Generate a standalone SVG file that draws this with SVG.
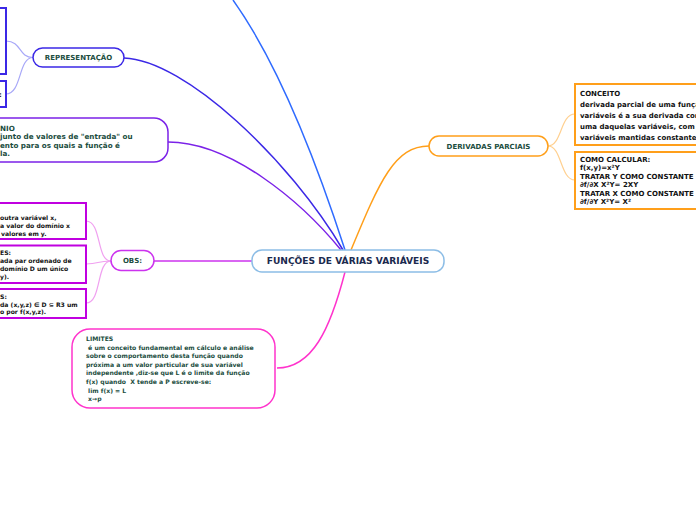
<svg xmlns="http://www.w3.org/2000/svg" width="696" height="520" viewBox="0 0 696 520">
<style>
.t{font-family:"DejaVu Sans","Liberation Sans",sans-serif;font-weight:bold}
.lab{fill:#1b4d3e;font-size:7px;text-anchor:middle}
.bx{fill:#111;font-size:6.1px}
.bx7{fill:#111;font-size:7px}
.lim{fill:#1b4d3e;font-size:6.1px}
.dom{fill:#1b4d3e;font-size:7.2px}
.c{fill:none}
</style>
<rect width="696" height="520" fill="#fff"/>
<g id="connectors" class="c">
<path d="M233,0 Q290,80 345,250" stroke="#2f6bff" stroke-width="1.5"/>
<path d="M124,58 C185,60 290,160 343,250" stroke="#3b28e6" stroke-width="1.5"/>
<path d="M168,142 C230,142 300,200 341,250" stroke="#7b22e8" stroke-width="1.5"/>
<path d="M351,250 C380,180 395,146 429,146" stroke="#ff9f1a" stroke-width="1.5"/>
<path d="M345,272 C330,330 312,368 277,368" stroke="#ff33cc" stroke-width="1.5"/>
<path d="M154,261 L252,261" stroke="#cc33ee" stroke-width="1.5"/>
<path d="M33,57.5 C18,57.5 22,41 6,41" stroke="#a8a8f8" stroke-width="1.2"/>
<path d="M33,57.5 C18,57.5 22,94 6,94" stroke="#a8a8f8" stroke-width="1.2"/>
<path d="M111,261 C96,261 102,221 86,221" stroke="#f0a0f0" stroke-width="1.2"/>
<path d="M111,261 C96,261 100,264 86,264" stroke="#f0a0f0" stroke-width="1.2"/>
<path d="M111,261 C96,261 102,303 86,303" stroke="#f0a0f0" stroke-width="1.2"/>
<path d="M548,146 C562,146 560,114 575,114" stroke="#ffd090" stroke-width="1.2"/>
<path d="M548,146 C562,146 560,180 575,180" stroke="#ffd090" stroke-width="1.2"/>
</g>
<g id="central">
<rect x="252" y="250" width="192" height="22" rx="10" fill="#fff" stroke="#8cbde6" stroke-width="1.5"/>
<text class="t" x="348" y="264.3" font-size="9.1" fill="#1b2a4e" text-anchor="middle">FUNÇÕES DE VÁRIAS VARIÁVEIS</text>
</g>
<g id="representacao">
<rect x="33" y="48" width="91" height="19" rx="9.5" fill="#fff" stroke="#3b28e6" stroke-width="1.5"/>
<text class="t lab" x="78.5" y="60">REPRESENTAÇÃO</text>
</g>
<g id="rep-box1">
<rect x="-10" y="8" width="16" height="66" fill="#fff" stroke="#3b28e6" stroke-width="2"/>
</g>
<g id="rep-box2">
<rect x="-10" y="81" width="16" height="26" fill="#fff" stroke="#3b28e6" stroke-width="2"/>
<text class="t bx7" x="-1" y="96.5">:</text>
</g>
<g id="dominio">
<rect x="-20" y="118" width="188" height="44" rx="14" fill="#fff" stroke="#7b22e8" stroke-width="1.5"/>
<text class="t dom" x="0" y="130.8">NIO</text>
<text class="t dom" x="0" y="139">junto de valores de &quot;entrada&quot; ou</text>
<text class="t dom" x="0" y="148">ento para os quais a função é</text>
<text class="t dom" x="0" y="156">la.</text>
</g>
<g id="obs">
<rect x="111" y="250.5" width="43" height="20" rx="10" fill="#fff" stroke="#cc33ee" stroke-width="1.5"/>
<text class="t lab" x="132.5" y="263">OBS:</text>
</g>
<g id="obs-box1">
<rect x="-10" y="203" width="96" height="36" fill="#fff" stroke="#c000e0" stroke-width="2"/>
<text class="t bx" x="0" y="219.5">outra variável x,</text>
<text class="t bx" x="0" y="227.5">a valor do domínio x</text>
<text class="t bx" x="1" y="235.5">valores em y.</text>
</g>
<g id="obs-box2">
<rect x="-10" y="245.5" width="96" height="37.5" fill="#fff" stroke="#c000e0" stroke-width="2"/>
<text class="t bx" x="0" y="254.5">ES:</text>
<text class="t bx" x="0" y="262.5">ada par ordenado de</text>
<text class="t bx" x="0" y="270.5">domínio D um único</text>
<text class="t bx" x="0" y="278.5">y).</text>
</g>
<g id="obs-box3">
<rect x="-10" y="289" width="96" height="29" fill="#fff" stroke="#c000e0" stroke-width="2"/>
<text class="t bx" x="0" y="298.5">S:</text>
<text class="t bx" x="0" y="306.5">da (x,y,z) ∈ D ⊆ R3 um</text>
<text class="t bx" x="0" y="314">o por f(x,y,z).</text>
</g>
<g id="limites">
<rect x="72" y="329" width="203" height="79" rx="18" fill="#fff" stroke="#ff33cc" stroke-width="1.5"/>
<text class="t lim" xml:space="preserve">
<tspan x="86" y="341">LIMITES</tspan>
<tspan x="86" y="349.6"> é um conceito fundamental em cálculo e análise</tspan>
<tspan x="86" y="358.2">sobre o comportamento desta função quando</tspan>
<tspan x="86" y="366.8">próxima a um valor particular de sua variável</tspan>
<tspan x="86" y="375.4">independente ,diz-se que L é o limite da função</tspan>
<tspan x="86" y="384">f(x) quando  X tende a P escreve-se:</tspan>
<tspan x="86" y="392.6"> lim f(x) = L</tspan>
<tspan x="86" y="401.2"> x→p</tspan>
</text>
</g>
<g id="derivadas">
<rect x="429" y="136" width="119" height="20" rx="10" fill="#fff" stroke="#ff9f1a" stroke-width="1.5"/>
<text class="t lab" x="488.5" y="148.8" font-size="7.8">DERIVADAS PARCIAIS</text>
</g>
<g id="conceito">
<rect x="575" y="84" width="140" height="61" fill="#fff" stroke="#ff9f1a" stroke-width="2"/>
<text class="t bx7" x="580" y="96">CONCEITO</text>
<text class="t bx7" x="580" y="107">derivada parcial de uma função</text>
<text class="t bx7" x="580" y="118">variáveis é a sua derivada com</text>
<text class="t bx7" x="580" y="129">uma daquelas variáveis, com</text>
<text class="t bx7" x="580" y="140">variáveis mantidas constantes.</text>
</g>
<g id="como-calcular">
<rect x="575" y="152" width="140" height="57" fill="#fff" stroke="#ff9f1a" stroke-width="2"/>
<text class="t bx7" x="580" y="162">COMO CALCULAR:</text>
<text class="t bx7" x="580" y="170.3">f(x,y)=x²Y</text>
<text class="t bx7" x="580" y="178.8">TRATAR Y COMO CONSTANTE</text>
<text class="t bx7" x="580" y="187">∂f/∂X X²Y= 2XY</text>
<text class="t bx7" x="580" y="195.6">TRATAR X COMO CONSTANTE</text>
<text class="t bx7" x="580" y="204">∂f/∂Y X²Y= X²</text>
</g>
</svg>
